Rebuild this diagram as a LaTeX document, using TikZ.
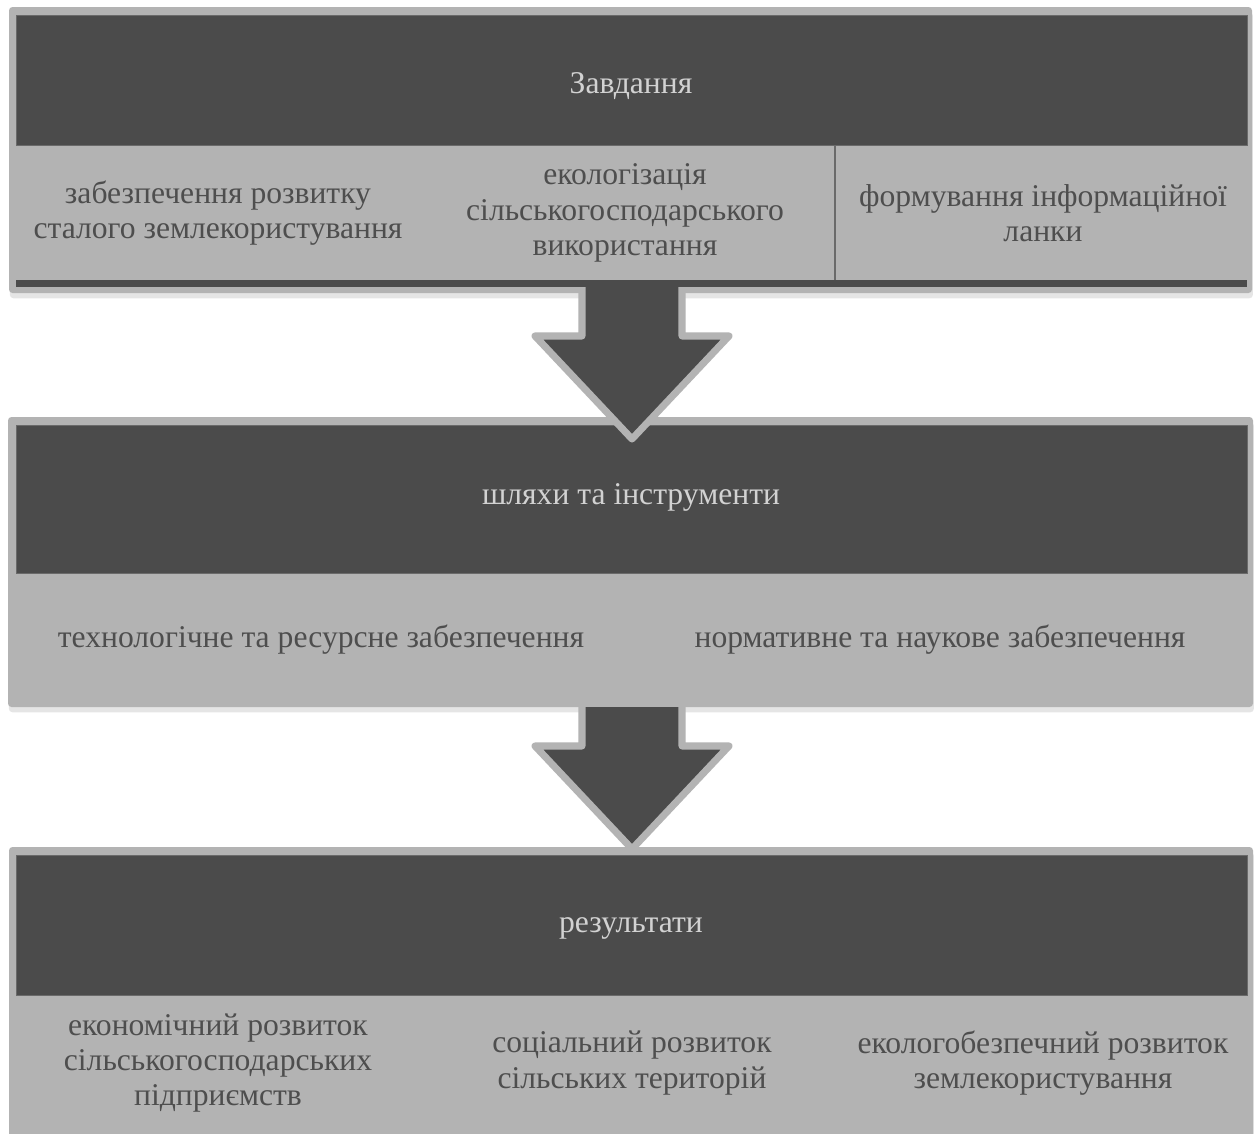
\documentclass[tikz,border=0pt]{standalone}
\usepackage{fontspec}
\setmainfont{Liberation Serif}
\usetikzlibrary{shadows}
\definecolor{darkgrey}{HTML}{4B4B4B}
\definecolor{lightgrey}{HTML}{B3B3B3}
\definecolor{edgegrey}{HTML}{6A6A6A}
\definecolor{headtext}{HTML}{D2D2D2}
\definecolor{bodytext}{HTML}{4E4E4E}

\begin{document}
\begin{tikzpicture}[x=0.02cm,y=-0.02cm,
   panel/.style={fill=lightgrey,rounded corners=2pt,
      drop shadow={shadow xshift=0.5pt,shadow yshift=-3pt,opacity=.2}},
   header/.style={fill=darkgrey,draw=edgegrey,line width=.5pt},
   title/.style={text=headtext,font=\fontsize{18}{21}\selectfont},
   item/.style={text=bodytext,align=center,font=\fontsize{18}{20}\selectfont},
   arrowedge/.style={draw=lightgrey,line width=4pt,line join=round}]
   \useasboundingbox[fill=white] (0,0) rectangle (1254,1133);

   % first panel
   \path[panel] (9,7) rectangle (1252,293);
   \draw[header] (16,15) rectangle (1247,145);
   \fill[darkgrey] (16,280) rectangle (1247,287);
   \draw[edgegrey,line width=.8pt] (835,145) -- (835,280);
   \node[title] (task) at (631,86) {Завдання};
   \node[item] (t1) at (218,213) {забезпечення розвитку\\сталого землекористування};
   \node[item] (t2) at (625,213) {екологізація\\сільськогосподарського\\використання};
   \node[item] (t3) at (1043,213) {формування інформаційної\\ланки};

   % second panel
   \path[panel] (8,417) rectangle (1253,707);
   \draw[header] (16,425) rectangle (1247,573);
   \node[title] (ways) at (631,497) {шляхи та інструменти};
   \node[item] (w1) at (321,640) {технологічне та ресурсне забезпечення};
   \node[item] (w2) at (940,640) {нормативне та наукове забезпечення};

   % third panel
   \path[panel] (9,847) rectangle (1253,1160);
   \draw[header] (16,855) rectangle (1247,995);
   \node[title] (res) at (631,928) {результати};
   \node[item] (r1) at (218,1063) {економічний розвиток\\сільськогосподарських\\підприємств};
   \node[item] (r2) at (632,1063) {соціальний розвиток\\сільських територій};
   \node[item] (r3) at (1043,1063) {екологобезпечний розвиток\\землекористування};

   % arrows
   \coordinate (a1) at (632,287);
   \coordinate (a2) at (632,707);
   \begin{scope}[shift={(a1)}]
      \fill[darkgrey] (-50,0) -- (-50,49) -- (-97,49) -- (0,152) -- (97,49) -- (50,49) -- (50,0) -- cycle;
      \draw[arrowedge] (-50,0) -- (-50,49) -- (-97,49) -- (0,152) -- (97,49) -- (50,49) -- (50,0);
   \end{scope}
   \begin{scope}[shift={(a2)}]
      \fill[darkgrey] (-50,0) -- (-50,39) -- (-97,39) -- (0,142) -- (97,39) -- (50,39) -- (50,0) -- cycle;
      \draw[arrowedge] (-50,0) -- (-50,39) -- (-97,39) -- (0,142) -- (97,39) -- (50,39) -- (50,0);
   \end{scope}
\end{tikzpicture}
\end{document}
